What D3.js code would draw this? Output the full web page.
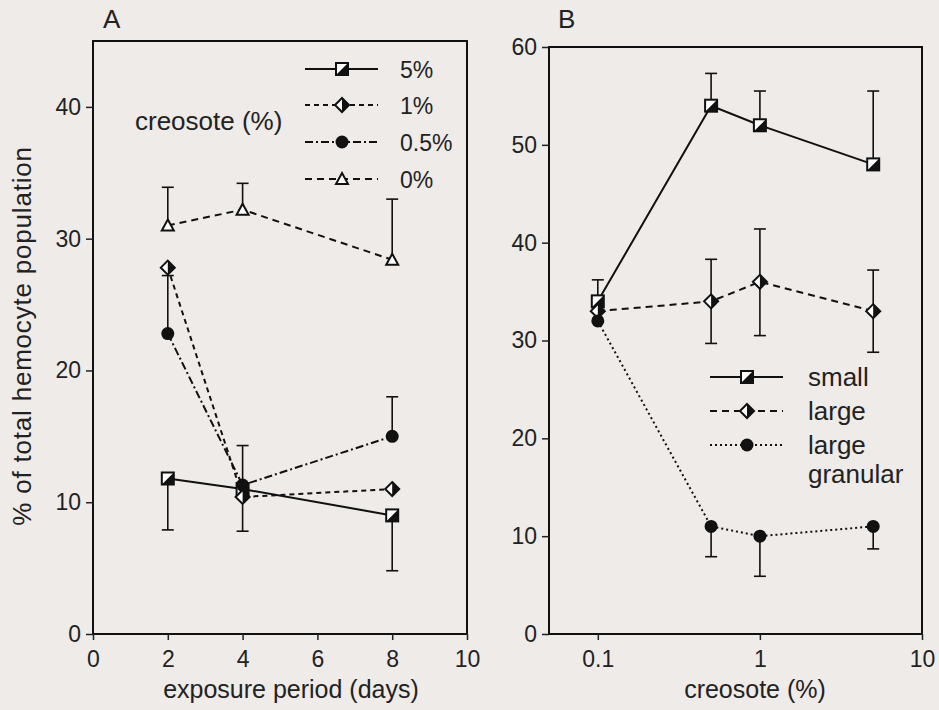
<!DOCTYPE html>
<html>
<head>
<meta charset="utf-8">
<script src="https://cdn.jsdelivr.net/npm/d3@7"></script>
<style>
  body { margin: 0; background: #eeebe8; }
  svg { display: block; font-family: "Liberation Sans", Arial, sans-serif; }
  .axis text { font-size: 23px; fill: #222; }
  .axis line { stroke: #222; stroke-width: 1.5; }
  .lbl { font-size: 26px; fill: #222; }
</style>
</head>
<body>
<svg id="chart" width="939" height="710"></svg>
<script>
// panel A: exposure period (days)
const daysA = [2, 4, 8]
const a5 = [11.8, 11.0, 9.0]
const a5Lo = [7.9, null, 4.8]
const a1 = [27.8, 10.4, 11.0]
const a1Lo = [null, 7.8, null]
const a05 = [22.8, 11.3, 15.0]
const a05Hi = [27.2, 14.3, 18.0]
const a0 = [31.0, 32.2, 28.4]
const a0Hi = [33.9, 34.2, 33.0]
const ticksAx = [0, 2, 4, 6, 8, 10]
const ticksAy = [0, 10, 20, 30, 40]
const legendA = ['5%', '1%', '0.5%', '0%']

// panel B: creosote (%)
const concB = [0.1, 0.5, 1, 5]
const small = [34, 54, 52, 48]
const smallHi = [36.2, 57.3, 55.5, 55.5]
const large = [33, 34, 36, 33]
const largeHi = [null, 38.3, 41.4, 37.2]
const largeLo = [null, 29.7, 30.5, 28.8]
const gran = [32, 11, 10, 11]
const granLo = [null, 7.9, 5.9, 8.7]
const ticksBx = [0.1, 1, 10]
const ticksBy = [0, 10, 20, 30, 40, 50, 60]
const legendB = ['small', 'large', 'large|granular']

const ink = '#111'
const svg = d3.select('#chart')

// markers
function halfSquare(g, x, y) {
  g.append('rect').attr('x', x - 6).attr('y', y - 6).attr('width', 12).attr('height', 12)
    .attr('fill', '#fff').attr('stroke', ink).attr('stroke-width', 2)
  g.append('path').attr('d', `M${x + 6},${y - 6}L${x + 6},${y + 6}L${x - 6},${y + 6}Z`).attr('fill', ink)
}
function halfDiamond(g, x, y) {
  g.append('path').attr('d', `M${x},${y - 7}L${x + 7},${y}L${x},${y + 7}L${x - 7},${y}Z`)
    .attr('fill', '#fff').attr('stroke', ink).attr('stroke-width', 2)
  g.append('path').attr('d', `M${x},${y - 7}L${x + 7},${y}L${x},${y + 7}Z`).attr('fill', ink)
}
function dot(g, x, y) {
  g.append('circle').attr('cx', x).attr('cy', y).attr('r', 6.5).attr('fill', ink)
}
function tri(g, x, y) {
  g.append('path').attr('d', `M${x},${y - 6}L${x + 6},${y + 5}L${x - 6},${y + 5}Z`)
    .attr('fill', '#fff').attr('stroke', ink).attr('stroke-width', 2)
}

function panel(opt) {
  const { left, right, top, bottom, x, y } = opt
  const g = svg.append('g')

  // frame
  g.append('rect').attr('x', left).attr('y', top).attr('width', right - left).attr('height', bottom - top)
    .attr('fill', 'none').attr('stroke', ink).attr('stroke-width', 2)

  const xAxis = d3.axisBottom(x).tickValues(opt.xTicks).tickSize(6).tickSizeOuter(0).tickPadding(11)
    .tickFormat(opt.xFormat || d3.format('d'))
  const yAxis = d3.axisLeft(y).tickValues(opt.yTicks).tickSize(7).tickSizeOuter(0).tickPadding(5)
    .tickFormat(d3.format('d'))

  g.append('g').attr('class', 'axis').attr('transform', `translate(0,${bottom})`).call(xAxis)
    .call(s => s.select('.domain').remove())
  g.append('g').attr('class', 'axis').attr('transform', `translate(${left},0)`).call(yAxis)
    .call(s => s.select('.domain').remove())

  // series
  opt.series.forEach(s => {
    const pts = s.values.map((v, i) => [x(opt.xs[i]), y(v)])
    g.append('path').attr('d', d3.line()(pts)).attr('fill', 'none').attr('stroke', ink)
      .attr('stroke-width', 2).attr('stroke-dasharray', s.dash)
    ;[s.hi, s.lo].forEach(b => {
      if (!b) return
      b.forEach((e, i) => {
        if (e == null) return
        const px = x(opt.xs[i])
        g.append('line').attr('x1', px).attr('x2', px).attr('y1', y(s.values[i])).attr('y2', y(e))
          .attr('stroke', ink).attr('stroke-width', 1.6)
        g.append('line').attr('x1', px - 6).attr('x2', px + 6).attr('y1', y(e)).attr('y2', y(e))
          .attr('stroke', ink).attr('stroke-width', 1.6)
      })
    })
  })
  opt.series.forEach(s => {
    s.values.forEach((v, i) => s.mark(g, x(opt.xs[i]), y(v)))
  })

  // legend
  opt.legend.forEach((name, i) => {
    const s = opt.series[i]
    const ly = opt.legendY[i]
    g.append('line').attr('x1', opt.legendX[0]).attr('x2', opt.legendX[2]).attr('y1', ly).attr('y2', ly)
      .attr('stroke', ink).attr('stroke-width', 2).attr('stroke-dasharray', s.dash)
    s.mark(g, opt.legendX[1], ly)
    const t = g.append('text').attr('class', 'lbl').attr('x', opt.legendX[3]).attr('y', ly + 9)
      .style('font-size', opt.legendSize)
    name.split('|').forEach((w, j) => {
      t.append('tspan').attr('x', opt.legendX[3]).attr('dy', j ? 29 : 0).text(w)
    })
  })

  g.append('text').attr('class', 'lbl').attr('x', opt.titleX).attr('y', 698)
    .attr('text-anchor', 'middle').style('font-size', '25px').text(opt.xTitle)
  g.append('text').attr('class', 'lbl').attr('x', opt.tag[0]).attr('y', opt.tag[1])
    .text(opt.tag[2])
  return g
}

// panel A
const xA = d3.scaleLinear().domain([0, 10]).range([93, 467])
const yA = d3.scaleLinear().domain([0, 45]).range([634, 41])
const gA = panel({
  left: 93, right: 467, top: 41, bottom: 634, x: xA, y: yA,
  xs: daysA, xTicks: ticksAx, yTicks: ticksAy,
  series: [
    { values: a5, lo: a5Lo, dash: null, mark: halfSquare },
    { values: a1, lo: a1Lo, dash: '5,4', mark: halfDiamond },
    { values: a05, hi: a05Hi, dash: '8,3,2,3', mark: dot },
    { values: a0, hi: a0Hi, dash: '7,5', mark: tri }
  ],
  legend: legendA, legendY: [69, 105, 142, 179], legendX: [305, 342, 378, 400], legendSize: '23px',
  xTitle: 'exposure period (days)', titleX: 291, tag: [103, 28, 'A']
})
gA.append('text').attr('class', 'lbl').attr('x', 135).attr('y', 130).text('creosote (%)')

// panel B
const xB = d3.scaleLog().domain([0.05, 10]).range([549, 922])
const yB = d3.scaleLinear().domain([0, 60]).range([634, 47])
panel({
  left: 549, right: 922, top: 47, bottom: 634, x: xB, y: yB,
  xs: concB, xTicks: ticksBx, yTicks: ticksBy, xFormat: d => String(d),
  series: [
    { values: small, hi: smallHi, dash: null, mark: halfSquare },
    { values: large, hi: largeHi, lo: largeLo, dash: '7,5', mark: halfDiamond },
    { values: gran, lo: granLo, dash: '2,3', mark: dot }
  ],
  legend: legendB, legendY: [377, 411, 445], legendX: [710, 747, 783, 808], legendSize: '26px',
  xTitle: 'creosote (%)', titleX: 755, tag: [558, 28, 'B']
})

// y title
svg.append('text').attr('class', 'lbl').attr('transform', 'translate(31,336) rotate(-90)')
  .attr('text-anchor', 'middle').style('font-size', '26px').style('letter-spacing', '0.8px')
  .text('% of total hemocyte population')
</script>
</body>
</html>
